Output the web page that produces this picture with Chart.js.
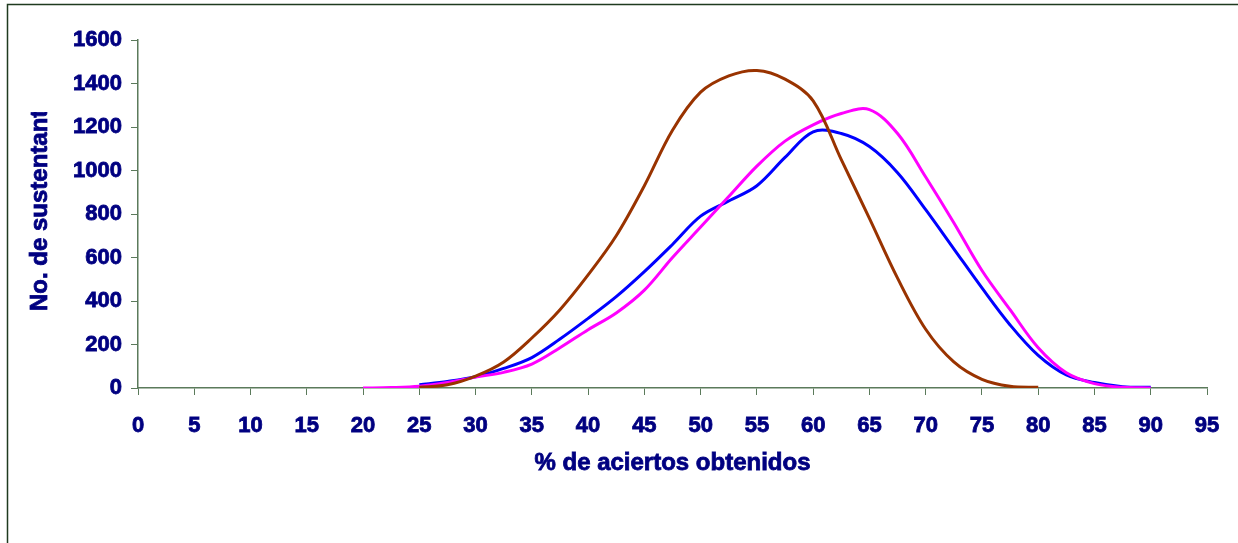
<!DOCTYPE html>
<html>
<head>
<meta charset="utf-8">
<script src="https://cdn.jsdelivr.net/npm/chart.js@4/dist/chart.umd.min.js"></script>
<style>
  html, body { margin: 0; padding: 0; background: #fff; }
  #wrap { width: 1238px; height: 543px; position: relative; }
</style>
</head>
<body>
<div id="wrap"><canvas id="chart"></canvas></div>
<script>
// x = % de aciertos, y = no. de sustentantes
const xBrown = [25, 27.5, 30, 32.5, 35, 37.5, 40, 42.5, 45, 47.5, 50, 52.5, 55, 57.5, 60, 62.5, 65, 67.5, 70, 72.5, 75, 77.5, 80];
const yBrown = [3, 15, 55, 120, 230, 360, 520, 700, 930, 1185, 1360, 1435, 1460, 1420, 1320, 1050, 780, 505, 270, 120, 40, 8, 3];

const xMagenta = [20, 22.5, 25, 27.5, 30, 32.5, 35, 37.5, 40, 42.5, 45, 47.5, 50, 52.5, 55, 57.5, 60, 62.5, 65, 67.5, 70, 72.5, 75, 77.5, 80, 82.5, 85, 87.5, 90];
const yMagenta = [0, 2, 8, 25, 50, 72, 110, 185, 268, 345, 450, 600, 740, 880, 1020, 1135, 1210, 1262, 1280, 1170, 970, 760, 540, 360, 185, 70, 20, 3, 0];

const xBlue = [25, 27.5, 30, 32.5, 35, 37.5, 40, 42.5, 45, 47.5, 50, 52.5, 55, 57.5, 60, 62.5, 65, 67.5, 70, 72.5, 75, 77.5, 80, 82.5, 85, 87.5, 90];
const yBlue = [15, 30, 52, 90, 140, 225, 320, 420, 535, 660, 790, 860, 930, 1060, 1178, 1170, 1110, 990, 820, 640, 460, 290, 150, 60, 25, 6, 3];

const xTitle = "% de aciertos obtenidos";
const yTitle = "No. de sustentantes";

const navy = "#000080";
const axisColor = "#5b7a5b";
const fontFamily = "'Liberation Sans', Arial, sans-serif";

function pts(xs, ys) {
  return xs.map((x, i) => ({ x: x, y: ys[i] }));
}

function boldText(ctx, text, x, y) {
  ctx.fillText(text, x, y);
  ctx.strokeText(text, x, y);
}

// frame + axis titles drawn by hand
const decor = {
  id: "decor",
  beforeDraw(chart) {
    const ctx = chart.ctx;
    ctx.save();
    ctx.fillStyle = "#fff";
    ctx.fillRect(0, 0, chart.width, chart.height);
    ctx.strokeStyle = "#1f3a1f";
    ctx.lineWidth = 1.5;
    ctx.strokeRect(7.5, 4.5, 1400, 700);
    ctx.restore();
  },
  afterDraw(chart) {
    const ctx = chart.ctx;
    const a = chart.chartArea;
    ctx.save();
    ctx.fillStyle = navy;
    ctx.strokeStyle = navy;
    ctx.lineWidth = 0.8;
    ctx.font = "bold 24px " + fontFamily;
    ctx.textAlign = "center";
    ctx.textBaseline = "middle";
    boldText(ctx, xTitle, (a.left + a.right) / 2, 463);

    // y title is cut off at the top like the original
    ctx.beginPath();
    ctx.rect(0, 112, 100, 300);
    ctx.clip();
    ctx.translate(40, 311);
    ctx.rotate(-Math.PI / 2);
    ctx.textAlign = "left";
    boldText(ctx, yTitle, 0, 0);
    ctx.restore();
  }
};

const tickFont = { family: fontFamily, size: 22, weight: "bold" };

const ctx = document.getElementById("chart").getContext("2d");
new Chart(ctx, {
  type: "line",
  data: {
    datasets: [
      { data: pts(xBrown, yBrown), borderColor: "#993300", borderWidth: 3 },
      { data: pts(xMagenta, yMagenta), borderColor: "#ff00ff", borderWidth: 3 },
      { data: pts(xBlue, yBlue), borderColor: "#0000ff", borderWidth: 3 }
    ]
  },
  options: {
    responsive: true,
    maintainAspectRatio: false,
    animation: false,
    layout: { padding: { top: 40, right: 31, left: 0, bottom: 0 } },
    elements: {
      point: { radius: 0 },
      line: { tension: 0.35, fill: false }
    },
    plugins: {
      legend: { display: false },
      tooltip: { enabled: false }
    },
    scales: {
      x: {
        type: "linear",
        min: 0,
        max: 95,
        afterFit(scale) { scale.height = 155; },
        ticks: {
          stepSize: 5,
          color: navy,
          textStrokeColor: navy,
          textStrokeWidth: 0.8,
          padding: 18,
          maxRotation: 0,
          autoSkip: false,
          font: tickFont
        },
        grid: { drawOnChartArea: false, color: axisColor, tickLength: 7 },
        border: { color: axisColor, width: 1.5 }
      },
      y: {
        min: 0,
        max: 1600,
        afterFit(scale) { scale.width = 138; },
        ticks: {
          stepSize: 200,
          color: navy,
          textStrokeColor: navy,
          textStrokeWidth: 0.8,
          padding: 9,
          font: tickFont,
          callback: v => String(v)
        },
        grid: { drawOnChartArea: false, color: axisColor, tickLength: 7 },
        border: { color: axisColor, width: 1.5 }
      }
    }
  },
  plugins: [decor]
});
</script>
</body>
</html>
